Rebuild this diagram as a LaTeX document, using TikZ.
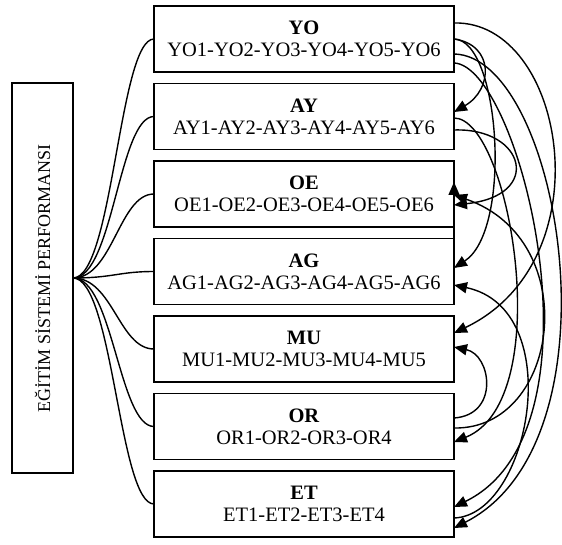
\documentclass[tikz,border=0pt]{standalone}
\usepackage{fontspec}
\setmainfont{Liberation Serif}
\usetikzlibrary{positioning,arrows.meta}

\begin{document}
\begin{tikzpicture}[x=1pt,y=1pt,node distance=11.5pt,
  box/.style={draw,line width=1.7pt,outer sep=0pt,minimum width=300pt,minimum height=66pt,
    align=center,inner sep=2pt,font=\fontsize{20.5}{22}\selectfont},
  link/.style={line width=1.4pt,-{Triangle[length=13pt,width=11pt]}},
  fan/.style={line width=1.4pt,out=0,in=180,out distance=40pt,in distance=35pt}]
   \useasboundingbox (0,0) rectangle (562,544);
   \node[box] (yo) at (304,505) {\textbf{YO}\\YO1-YO2-YO3-YO4-YO5-YO6};
   \node[box] (ay) [below=of yo] {\textbf{AY}\\AY1-AY2-AY3-AY4-AY5-AY6};
   \node[box] (oe) [below=of ay] {\textbf{OE}\\OE1-OE2-OE3-OE4-OE5-OE6};
   \node[box] (ag) [below=of oe] {\textbf{AG}\\AG1-AG2-AG3-AG4-AG5-AG6};
   \node[box] (mu) [below=of ag] {\textbf{MU}\\MU1-MU2-MU3-MU4-MU5};
   \node[box] (or) [below=of mu] {\textbf{OR}\\OR1-OR2-OR3-OR4};
   \node[box] (et) [below=of or] {\textbf{ET}\\ET1-ET2-ET3-ET4};
   \node[draw,line width=1.7pt,outer sep=0pt,rotate=90,minimum width=390pt,minimum height=61pt,
     font=\fontsize{18}{20}\selectfont] (perf) at (42.5,266) {EĞİTİM SİSTEMİ PERFORMANSI\hspace{20pt}};
   % fan to every group
   \foreach \b in {yo,ay,oe,ag,mu,or,et}
     \draw[fan] (perf.south) to (\b.west);
   % links between groups
   \path[link]
   (yo.east) edge[out=-8,in=30,out distance=41pt,in distance=45pt] ([yshift=4.5pt]ay.east)
   (yo.east) edge[out=-1,in=33,out distance=46pt,in distance=70pt] ([yshift=3.5pt]ag.east)
   ([yshift=16pt]yo.east) edge[out=1.5,in=25.6,out distance=111pt,in distance=169pt] ([yshift=16pt]mu.east)
   ([yshift=-15pt]yo.east) edge[out=-1,in=27,out distance=106pt,in distance=192pt] ([yshift=-24pt]et.east)
   ([yshift=-24pt]yo.east) edge[out=-2,in=26,out distance=66pt,in distance=175pt] ([yshift=-3pt]et.east)
   ([yshift=-1.5pt]ay.east) edge[out=0,in=22,out distance=56pt,in distance=112pt] ([yshift=-15.5pt]or.east)
   ([yshift=-13.5pt]ay.east) edge[out=2,in=6,out distance=71pt,in distance=90pt] ([yshift=-11pt]oe.east)
   ([yshift=-5.5pt]ag.east) edge ([yshift=12pt]oe.east)
   ([yshift=8.5pt]or.east) edge[out=4,in=-12,out distance=46pt,in distance=38pt] ([yshift=2pt]mu.east)
   ([yshift=-1.5pt]or.east) edge[out=-1,in=-19,out distance=106pt,in distance=138pt] ([yshift=-1pt]oe.east)
   ([yshift=-14pt]et.east) edge[out=2,in=-12,out distance=76pt,in distance=117pt] ([yshift=-13.5pt]ag.east);
\end{tikzpicture}
\end{document}
